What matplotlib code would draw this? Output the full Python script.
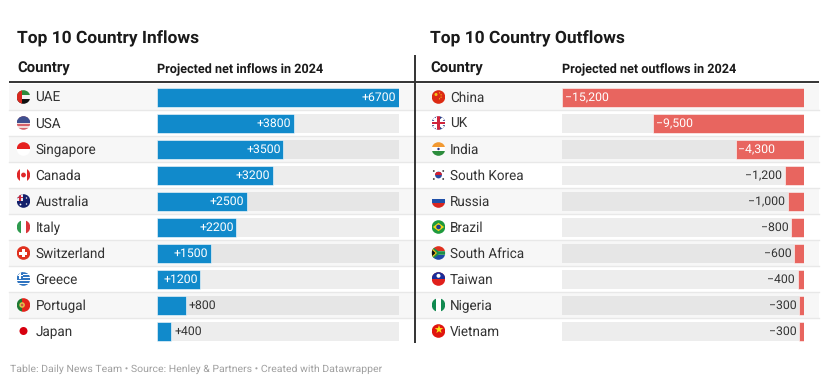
import matplotlib
matplotlib.use("Agg")
import matplotlib.pyplot as plt
from matplotlib.patches import Rectangle, Circle, Polygon

plt.rcParams['font.family'] = ['Roboto', 'DejaVu Sans']
plt.rcParams['text.hinting'] = 'none'

in_countries = ["UAE", "USA", "Singapore", "Canada", "Australia", "Italy", "Switzerland", "Greece", "Portugal", "Japan"]
in_values = [6700, 3800, 3500, 3200, 2500, 2200, 1500, 1200, 800, 400]
in_labels = ["+6700", "+3800", "+3500", "+3200", "+2500", "+2200", "+1500", "+1200", "+800", "+400"]

out_countries = ["China", "UK", "India", "South Korea", "Russia", "Brazil", "South Africa", "Taiwan", "Nigeria", "Vietnam"]
out_values = [15200, 9500, 4300, 1200, 1000, 800, 600, 400, 300, 300]
out_labels = ["−15,200", "−9,500", "−4,300", "−1,200", "−1,000", "−800", "−600", "−400", "−300", "−300"]

W, H = 829, 384
ROW_TOP, ROW_H, N = 84, 26, 10
R = 6.8

fig = plt.figure(figsize=(W / 100, H / 100), dpi=100, facecolor='white')
ax = fig.add_axes([0, 0, 1, 1])
ax.set_xlim(0, W)
ax.set_ylim(H, 0)
ax.axis('off')


def stripes(cx, cy, colors, vertical=False, sizes=None, z=3):
    # bandes d'un drapeau, decoupees ensuite par le cercle
    sizes = sizes or [1 / len(colors)] * len(colors)
    clip = Circle((cx, cy), R, transform=ax.transData)
    pos = 0
    for c, s in zip(colors, sizes):
        if vertical:
            p = Rectangle((cx - R + pos * 2 * R, cy - R), s * 2 * R, 2 * R, fc=c, lw=0, zorder=z)
        else:
            p = Rectangle((cx - R, cy - R + pos * 2 * R), 2 * R, s * 2 * R, fc=c, lw=0, zorder=z)
        ax.add_patch(p)
        p.set_clip_path(clip)
        pos += s


def clipped(cx, cy, patch):
    ax.add_patch(patch)
    patch.set_clip_path(Circle((cx, cy), R, transform=ax.transData))


def rect(cx, cy, x, y, w, h, c, z=4):
    clipped(cx, cy, Rectangle((cx + x, cy + y), w, h, fc=c, lw=0, zorder=z))


def dot(cx, cy, r, c, x=0, y=0, z=5):
    ax.add_patch(Circle((cx + x, cy + y), r, fc=c, lw=0, zorder=z))


def flag(name, cx, cy):
    if name == "UAE":
        stripes(cx, cy, ['#2e8b3c', '#f4f4f4', '#111111'])
        rect(cx, cy, -R, -R, 5, 2 * R, '#d8281f')
    elif name == "USA":
        stripes(cx, cy, ['#d5626b', '#f3dada', '#d5626b', '#f3dada', '#d5626b', '#f3dada', '#d5626b'])
        rect(cx, cy, -R, -R, 2 * R, R, '#3f4f8f')
    elif name == "Singapore":
        stripes(cx, cy, ['#e5201f', '#ffffff'])
    elif name == "Canada":
        stripes(cx, cy, ['#e0282a', '#ffffff', '#e0282a'], vertical=True, sizes=[.25, .5, .25])
        dot(cx, cy, 2.4, '#e0282a')
    elif name == "Australia":
        stripes(cx, cy, ['#14206b'])
        rect(cx, cy, -R, -R, R, R, '#e8e8f0')
        rect(cx, cy, -R + 2.6, -R, 1.6, R, '#c8283c', z=5)
        rect(cx, cy, -R, -R + 2.6, R, 1.6, '#c8283c', z=5)
        dot(cx, cy, .7, 'white', 3, 3)
        dot(cx, cy, .7, 'white', 3, -3)
        dot(cx, cy, .9, 'white', -3, 3.5)
    elif name == "Italy":
        stripes(cx, cy, ['#2e9a4e', '#ffffff', '#d9343a'], vertical=True)
    elif name == "Switzerland":
        stripes(cx, cy, ['#e0301e'])
        rect(cx, cy, -4, -1.5, 8, 3, 'white')
        rect(cx, cy, -1.5, -4, 3, 8, 'white')
    elif name == "Greece":
        stripes(cx, cy, ['#2f74c0', 'white', '#2f74c0', 'white', '#2f74c0', 'white', '#2f74c0', 'white', '#2f74c0'])
        rect(cx, cy, -R, -R, R, R, '#2f74c0')
        rect(cx, cy, -R / 2 - .6, -R, 1.2, R, 'white', z=5)
        rect(cx, cy, -R, -R / 2 - .6, R, 1.2, 'white', z=5)
    elif name == "Portugal":
        stripes(cx, cy, ['#1f7a33', '#e2231a'], vertical=True, sizes=[.4, .6])
        dot(cx, cy, 2.8, '#e3c04a', -1.4, 0)
        dot(cx, cy, 1.3, '#c8554a', -1.4, 0, z=6)
    elif name == "Japan":
        dot(cx, cy, 4, '#d7000f')
    elif name == "China":
        stripes(cx, cy, ['#dc2a12'])
        dot(cx, cy, 1.5, '#f5c518', -2.5, -2.5)
        for x, y in [(1, -4.2), (2.6, -2.2), (2.6, .2), (1, 1.8)]:
            dot(cx, cy, .6, '#f5c518', x, y)
    elif name == "UK":
        stripes(cx, cy, ['#2a3a86'])
        clipped(cx, cy, Polygon([(cx - R, cy - R), (cx + R, cy + R)], closed=False, fill=False, ec='white', lw=2.2, zorder=4))
        clipped(cx, cy, Polygon([(cx + R, cy - R), (cx - R, cy + R)], closed=False, fill=False, ec='white', lw=2.2, zorder=4))
        rect(cx, cy, -R, -2, 2 * R, 4, 'white', z=5)
        rect(cx, cy, -2, -R, 4, 2 * R, 'white', z=5)
        rect(cx, cy, -R, -1.1, 2 * R, 2.2, '#d0243c', z=6)
        rect(cx, cy, -1.1, -R, 2.2, 2 * R, '#d0243c', z=6)
    elif name == "India":
        stripes(cx, cy, ['#f29a33', '#ffffff', '#2c8c3c'])
        dot(cx, cy, 1.2, '#28328c')
    elif name == "South Korea":
        clipped(cx, cy, Circle((cx, cy), R, fc='white', lw=0, zorder=3))
        dot(cx, cy, 3.4, '#2a4aa0')
        clipped(cx, cy, Rectangle((cx - 3.4, cy - 3.4), 6.8, 3.4, fc='#d5202f', lw=0, zorder=6))
        ax.patches[-1].set_clip_path(Circle((cx, cy), 3.4, transform=ax.transData))
        for sx, sy in [(-1, -1), (1, -1), (-1, 1), (1, 1)]:
            dot(cx, cy, .9, '#333333', sx * 4.7, sy * 4.0)
    elif name == "Russia":
        stripes(cx, cy, ['#f6f6f6', '#1f4fa8', '#d8261f'])
    elif name == "Brazil":
        stripes(cx, cy, ['#1f9a3e'])
        ax.add_patch(Polygon([(cx - 5.6, cy), (cx, cy - 4.2), (cx + 5.6, cy), (cx, cy + 4.2)], fc='#f5d518', lw=0, zorder=4))
        dot(cx, cy, 2.3, '#1f3f8f')
    elif name == "South Africa":
        stripes(cx, cy, ['#e0301e', '#ffffff', '#1f4aa8'], sizes=[.37, .26, .37])
        clipped(cx, cy, Polygon([(cx - R, cy - R), (cx, cy - 1.8), (cx + R, cy - 1.8), (cx + R, cy + 1.8), (cx, cy + 1.8), (cx - R, cy + R)],
                                fc='#1e8f4a', lw=0, zorder=4))
        clipped(cx, cy, Polygon([(cx - R, cy - R + 1.5), (cx - 1.5, cy), (cx - R, cy + R - 1.5)], fc='#f5c518', lw=0, zorder=5))
        clipped(cx, cy, Polygon([(cx - R, cy - 3.6), (cx - 3, cy), (cx - R, cy + 3.6)], fc='#111111', lw=0, zorder=6))
    elif name == "Taiwan":
        stripes(cx, cy, ['#e0201c'])
        rect(cx, cy, -R, -R, 2 * R, R, '#1a2e9a')
        dot(cx, cy, 2, 'white', 0, -3.2)
    elif name == "Nigeria":
        stripes(cx, cy, ['#118a50', '#ffffff', '#118a50'], vertical=True)
    elif name == "Vietnam":
        stripes(cx, cy, ['#e0150f'])
        ax.text(cx, cy + .2, "★", color='#f8e71c', fontsize=8, ha='center', va='center', family='DejaVu Sans', zorder=5)


def panel(x0, x1, hx, bx0, bx1, fx, tx, title, hdr, countries, values, labels, color, reverse):
    # titre + en-tetes
    ax.text(hx, 43, title, fontsize=12.5, fontweight='bold', color='#1a1a1a', va='baseline')
    ax.text(hx, 73, "Country", fontsize=10.7, fontweight='bold', color='#1a1a1a', va='baseline')
    ax.text(bx0, 73, hdr, fontsize=9.05, fontweight='bold', color='#1a1a1a', va='baseline')

    for i, name in enumerate(countries):
        top = ROW_TOP + i * ROW_H
        if i % 2 == 0:
            ax.add_patch(Rectangle((x0, top), x1 - x0, ROW_H, fc='#f7f7f7', lw=0, zorder=1))
        if i:
            ax.plot([x0, x1], [top, top], color='#e8e8e8', lw=1, zorder=2)
        flag(name, fx, top + 13)
        ax.text(tx, top + 18, name, fontsize=9.75, color='#333333', va='baseline', zorder=3)

    # barres sur leur propre axe
    bax = fig.add_axes([bx0 / W, 1 - (ROW_TOP + N * ROW_H) / H, (bx1 - bx0) / W, N * ROW_H / H])
    bax.patch.set_alpha(0)
    bax.axis('off')
    vmax = max(values)
    bax.set_ylim(N, 0)
    rows = [i + 0.5 for i in range(N)]
    track = ['#e6e6e6' if i % 2 == 0 else '#ededed' for i in range(N)]
    bh = 19 / ROW_H
    if reverse:
        bax.set_xlim(vmax, 0)
    else:
        bax.set_xlim(0, vmax)
    bax.barh(rows, [vmax] * N, height=bh, color=track, lw=0)
    bax.barh(rows, values, height=bh, color=color, edgecolor='white', lw=0.4)

    for y, v, lab in zip(rows, values, labels):
        inside = v / vmax > 0.15
        off = -2 if inside else 2
        if reverse:
            off = -off
        if inside:
            ha = 'left' if reverse else 'right'
        else:
            ha = 'right' if reverse else 'left'
        bax.annotate(lab, (v, y), xytext=(off, -3.1), textcoords='offset points', ha=ha, va='baseline',
                     fontsize=8.8, color='white' if inside else '#333333')


panel(9, 415, 17, 157, 399, 23.5, 35.5, "Top 10 Country Inflows", "Projected net inflows in 2024",
      in_countries, in_values, in_labels, '#118acb', False)
panel(416, 819, 430, 562, 804, 438.5, 450, "Top 10 Country Outflows", "Projected net outflows in 2024",
      out_countries, out_values, out_labels, '#e8655f', True)

ax.plot([9, 819], [82, 82], color='#333333', lw=1.4, zorder=5, solid_capstyle='butt')
ax.plot([415.5, 415.5], [55, 343], color='#333333', lw=1.4, zorder=5, solid_capstyle='butt')

ax.text(10, 372, "Table: Daily News Team • Source: Henley & Partners • Created with Datawrapper",
        fontsize=7.55, color='#a0a0a0', va='baseline')

fig.savefig("out.png", dpi=100)
